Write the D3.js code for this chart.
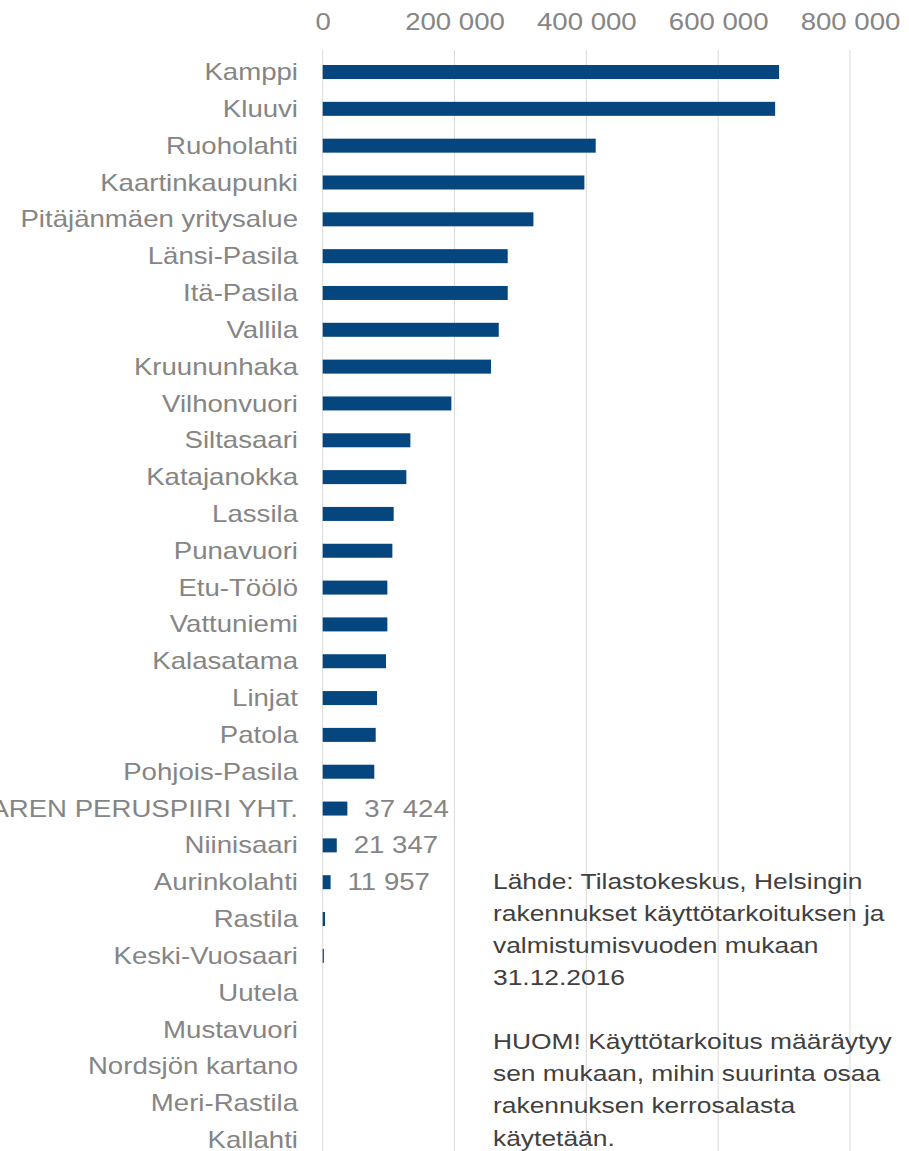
<!DOCTYPE html>
<html>
<head>
<meta charset="utf-8">
<script src="https://cdn.jsdelivr.net/npm/d3@7"></script>
<style>
  html, body { margin: 0; padding: 0; background: #fff; overflow: hidden; }
  svg { display: block; }
</style>
</head>
<body>
<svg id="chart" width="909" height="1151"></svg>
<script>
// Peruspiirit / osa-alueet, suurimmasta pienimpään
const categories = [
  "Kamppi", "Kluuvi", "Ruoholahti", "Kaartinkaupunki", "Pitäjänmäen yritysalue",
  "Länsi-Pasila", "Itä-Pasila", "Vallila", "Kruununhaka", "Vilhonvuori",
  "Siltasaari", "Katajanokka", "Lassila", "Punavuori", "Etu-Töölö",
  "Vattuniemi", "Kalasatama", "Linjat", "Patola", "Pohjois-Pasila",
  "VUOSAAREN PERUSPIIRI YHT.", "Niinisaari", "Aurinkolahti", "Rastila", "Keski-Vuosaari",
  "Uutela", "Mustavuori", "Nordsjön kartano", "Meri-Rastila", "Kallahti"
];

// Kerrosala (m²)
const values = [
  692400, 686400, 414200, 397000, 319700,
  280700, 280700, 267100, 255400, 195200,
  133000, 126900, 107700, 105700, 98100,
  98100, 96000, 82400, 80400, 78300,
  37424, 21347, 11957, 3500, 1800,
  0, 0, 0, 0, 0
];

// Rivit, joiden arvo kirjoitetaan palkin perään
const labelledRows = ["VUOSAAREN PERUSPIIRI YHT.", "Niinisaari", "Aurinkolahti"];

const xTicks = [0, 200000, 400000, 600000, 800000];

const noteLines = [
  "Lähde: Tilastokeskus, Helsingin",
  "rakennukset käyttötarkoituksen ja",
  "valmistumisvuoden mukaan",
  "31.12.2016",
  "",
  "HUOM! Käyttötarkoitus määräytyy",
  "sen mukaan, mihin suurinta osaa",
  "rakennuksen kerrosalasta",
  "käytetään."
];

const data = categories.map((c, i) => ({ name: c, value: values[i] }));

const svg = d3.select("#chart");
const fmt = v => d3.format(",")(v).replace(/,/g, " ");

const x = d3.scaleLinear().domain([0, 800000]).range([322.7, 850]);
const y = d3.scaleBand().domain(categories).range([53.6, 1158.4]);
const barH = 14;
const yc = d => y(d) + y.bandwidth() / 2;

const FONT = "'Liberation Sans', Arial, sans-serif";
const LABEL = "#858585";
const STRETCH = "scale(1.2,1)";   // leveä kirjainmuoto

// pystysuorat apuviivat
svg.append("g").selectAll("line")
  .data(xTicks)
  .join("line")
  .attr("x1", d => x(d)).attr("x2", d => x(d))
  .attr("y1", 50).attr("y2", 1151)
  .attr("stroke", "#d9d9d9").attr("stroke-width", 1);

// x-akseli ylhäällä
const xAxis = svg.append("g")
  .attr("transform", "translate(0,30)")
  .call(d3.axisTop(x).tickValues(xTicks).tickFormat(fmt).tickSize(0).tickPadding(0));
xAxis.select(".domain").remove();
xAxis.selectAll("text")
  .attr("transform", STRETCH)
  .attr("fill", LABEL)
  .style("font-family", FONT)
  .style("font-size", "23px");

// palkit
svg.append("g").selectAll("rect")
  .data(data)
  .join("rect")
  .attr("x", x(0))
  .attr("y", d => yc(d.name) - barH / 2)
  .attr("width", d => Math.max(0, x(d.value) - x(0)))
  .attr("height", barH)
  .attr("fill", "#05467f");

// kategorianimet
svg.append("g").selectAll("text")
  .data(data)
  .join("text")
  .attr("transform", d => `translate(298,${yc(d.name)}) ${STRETCH}`)
  .attr("dy", "0.35em")
  .attr("text-anchor", "end")
  .attr("fill", LABEL)
  .style("font-family", FONT)
  .style("font-size", "23px")
  .text(d => d.name);

// arvotekstit
svg.append("g").selectAll("text")
  .data(data.filter(d => labelledRows.includes(d.name)))
  .join("text")
  .attr("transform", d => `translate(${x(d.value) + 17},${yc(d.name)}) ${STRETCH}`)
  .attr("dy", "0.35em")
  .attr("fill", LABEL)
  .style("font-family", FONT)
  .style("font-size", "23px")
  .text(d => fmt(d.value));

// lähde- ja huomautusteksti
svg.append("g").selectAll("text")
  .data(noteLines)
  .join("text")
  .attr("transform", (d, i) => `translate(493,${881 + i * 32.1}) ${STRETCH}`)
  .attr("dy", "0.35em")
  .attr("fill", "#404040")
  .style("font-family", FONT)
  .style("font-size", "22px")
  .text(d => d);
</script>
</body>
</html>
